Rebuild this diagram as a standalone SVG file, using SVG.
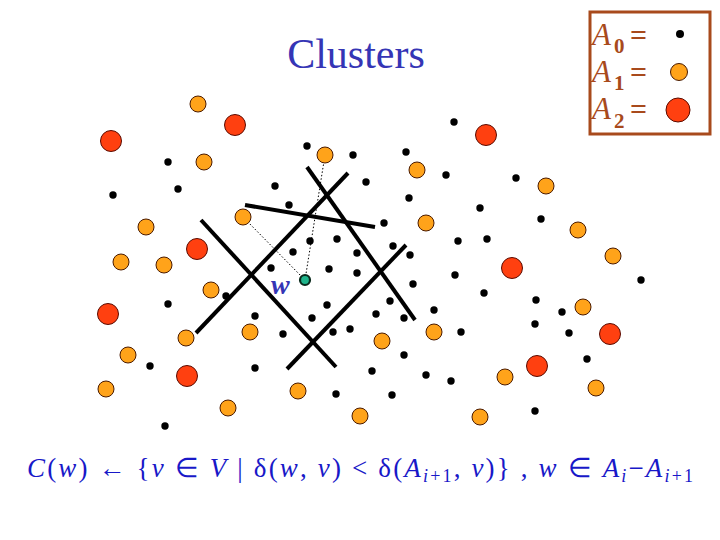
<svg xmlns="http://www.w3.org/2000/svg" width="720" height="540" viewBox="0 0 720 540">
<style>
.b{fill:#000}
.o{fill:#FFA31A;stroke:#4a1a00;stroke-width:1}
.r{fill:#FF4010;stroke:#5a0a00;stroke-width:1}
.cut{stroke:#000;stroke-width:4;stroke-linecap:butt;fill:none}
.dot{stroke:#000;stroke-width:1;stroke-dasharray:1.5 2;fill:none}
.leg{fill:#a84a1c;font-family:'Liberation Serif',serif}
.la{font-size:31px;font-style:italic}
.ls{font-size:21px;font-weight:bold}
.le{font-size:30px;font-weight:bold}
</style>
<rect width="720" height="540" fill="#fff"/>
<text x="356" y="68" font-family="'Liberation Serif',serif" font-size="42" fill="#3535b5" text-anchor="middle">Clusters</text>
<g id="legend">
<rect x="590" y="12" width="120" height="122" fill="none" stroke="#a84a1c" stroke-width="3"/>
<text class="leg la" x="592" y="45">A</text><text class="leg ls" x="614" y="53">0</text><text class="leg le" x="630" y="45">=</text>
<text class="leg la" x="592" y="82">A</text><text class="leg ls" x="614" y="90">1</text><text class="leg le" x="630" y="82">=</text>
<text class="leg la" x="592" y="119">A</text><text class="leg ls" x="614" y="128">2</text><text class="leg le" x="630" y="119">=</text>
<circle class="b" cx="680" cy="34" r="4"/>
<circle class="o" cx="679" cy="72" r="8.5"/>
<circle class="r" cx="678" cy="110" r="12"/>
</g>
<g id="connectors">
<line class="dot" x1="305" y1="280" x2="243" y2="217"/>
<line class="dot" x1="305" y1="280" x2="325" y2="155"/>
<line class="cut" x1="201" y1="220" x2="336" y2="367"/>
<line class="cut" x1="196" y1="333" x2="348" y2="173"/>
<line class="cut" x1="245" y1="205" x2="375" y2="227"/>
<line class="cut" x1="307" y1="167" x2="415" y2="320"/>
<line class="cut" x1="287" y1="369" x2="406" y2="245"/>
</g>
<g id="a0">
<g id="b1"><circle class="b" cx="168" cy="162" r="3.7"/></g>
<g id="b2"><circle class="b" cx="178" cy="189" r="3.7"/></g>
<g id="b3"><circle class="b" cx="113" cy="195" r="3.7"/></g>
<g id="b4"><circle class="b" cx="226" cy="296" r="3.7"/></g>
<g id="b5"><circle class="b" cx="168" cy="304" r="3.7"/></g>
<g id="b6"><circle class="b" cx="150" cy="366" r="3.7"/></g>
<g id="b7"><circle class="b" cx="165" cy="426" r="3.7"/></g>
<g id="b8"><circle class="b" cx="307" cy="146" r="3.7"/></g>
<g id="b9"><circle class="b" cx="353" cy="155" r="3.7"/></g>
<g id="b10"><circle class="b" cx="406" cy="152" r="3.7"/></g>
<g id="b11"><circle class="b" cx="454" cy="122" r="3.7"/></g>
<g id="b12"><circle class="b" cx="275" cy="186" r="3.7"/></g>
<g id="b13"><circle class="b" cx="366" cy="182" r="3.7"/></g>
<g id="b14"><circle class="b" cx="289" cy="205" r="3.7"/></g>
<g id="b15"><circle class="b" cx="409" cy="198" r="3.7"/></g>
<g id="b16"><circle class="b" cx="480" cy="208" r="3.7"/></g>
<g id="b17"><circle class="b" cx="384" cy="223" r="3.7"/></g>
<g id="b18"><circle class="b" cx="458" cy="241" r="3.7"/></g>
<g id="b19"><circle class="b" cx="487" cy="239" r="3.7"/></g>
<g id="b20"><circle class="b" cx="310" cy="241" r="3.7"/></g>
<g id="b21"><circle class="b" cx="337" cy="239" r="3.7"/></g>
<g id="b22"><circle class="b" cx="393" cy="246" r="3.7"/></g>
<g id="b23"><circle class="b" cx="357" cy="253" r="3.7"/></g>
<g id="b24"><circle class="b" cx="293" cy="252" r="3.7"/></g>
<g id="b25"><circle class="b" cx="410" cy="255" r="3.7"/></g>
<g id="b26"><circle class="b" cx="271" cy="268" r="3.7"/></g>
<g id="b27"><circle class="b" cx="329" cy="269" r="3.7"/></g>
<g id="b28"><circle class="b" cx="357" cy="273" r="3.7"/></g>
<g id="b29"><circle class="b" cx="413" cy="284" r="3.7"/></g>
<g id="b30"><circle class="b" cx="455" cy="275" r="3.7"/></g>
<g id="b31"><circle class="b" cx="327" cy="305" r="3.7"/></g>
<g id="b32"><circle class="b" cx="390" cy="301" r="3.7"/></g>
<g id="b33"><circle class="b" cx="434" cy="310" r="3.7"/></g>
<g id="b34"><circle class="b" cx="255" cy="316" r="3.7"/></g>
<g id="b35"><circle class="b" cx="312" cy="318" r="3.7"/></g>
<g id="b36"><circle class="b" cx="376" cy="314" r="3.7"/></g>
<g id="b37"><circle class="b" cx="404" cy="318" r="3.7"/></g>
<g id="b38"><circle class="b" cx="283" cy="334" r="3.7"/></g>
<g id="b39"><circle class="b" cx="333" cy="332" r="3.7"/></g>
<g id="b40"><circle class="b" cx="350" cy="329" r="3.7"/></g>
<g id="b41"><circle class="b" cx="461" cy="332" r="3.7"/></g>
<g id="b42"><circle class="b" cx="404" cy="355" r="3.7"/></g>
<g id="b43"><circle class="b" cx="255" cy="368" r="3.7"/></g>
<g id="b44"><circle class="b" cx="372" cy="371" r="3.7"/></g>
<g id="b45"><circle class="b" cx="426" cy="375" r="3.7"/></g>
<g id="b46"><circle class="b" cx="451" cy="381" r="3.7"/></g>
<g id="b47"><circle class="b" cx="336" cy="394" r="3.7"/></g>
<g id="b48"><circle class="b" cx="392" cy="395" r="3.7"/></g>
<g id="b49"><circle class="b" cx="516" cy="178" r="3.7"/></g>
<g id="b50"><circle class="b" cx="541" cy="219" r="3.7"/></g>
<g id="b51"><circle class="b" cx="484" cy="293" r="3.7"/></g>
<g id="b52"><circle class="b" cx="536" cy="300" r="3.7"/></g>
<g id="b53"><circle class="b" cx="562" cy="312" r="3.7"/></g>
<g id="b54"><circle class="b" cx="535" cy="324" r="3.7"/></g>
<g id="b55"><circle class="b" cx="569" cy="333" r="3.7"/></g>
<g id="b56"><circle class="b" cx="587" cy="359" r="3.7"/></g>
<g id="b57"><circle class="b" cx="641" cy="280" r="3.7"/></g>
<g id="b58"><circle class="b" cx="535" cy="411" r="3.7"/></g>
<g id="b59"><circle class="b" cx="446" cy="175" r="3.7"/></g>
</g>
<g id="a1">
<g id="o1"><circle class="o" cx="198" cy="104" r="8"/></g>
<g id="o2"><circle class="o" cx="204" cy="162" r="8"/></g>
<g id="o3"><circle class="o" cx="146" cy="227" r="8"/></g>
<g id="o4"><circle class="o" cx="121" cy="262" r="8"/></g>
<g id="o5"><circle class="o" cx="164" cy="265" r="8"/></g>
<g id="o6"><circle class="o" cx="211" cy="290" r="8"/></g>
<g id="o7"><circle class="o" cx="186" cy="338" r="8"/></g>
<g id="o8"><circle class="o" cx="128" cy="355" r="8"/></g>
<g id="o9"><circle class="o" cx="106" cy="389" r="8"/></g>
<g id="o10"><circle class="o" cx="228" cy="408" r="8"/></g>
<g id="o11"><circle class="o" cx="243" cy="217" r="8"/></g>
<g id="o12"><circle class="o" cx="325" cy="155" r="8"/></g>
<g id="o13"><circle class="o" cx="417" cy="170" r="8"/></g>
<g id="o14"><circle class="o" cx="426" cy="223" r="8"/></g>
<g id="o15"><circle class="o" cx="250" cy="332" r="8"/></g>
<g id="o16"><circle class="o" cx="382" cy="341" r="8"/></g>
<g id="o17"><circle class="o" cx="434" cy="332" r="8"/></g>
<g id="o18"><circle class="o" cx="298" cy="391" r="8"/></g>
<g id="o19"><circle class="o" cx="360" cy="416" r="8"/></g>
<g id="o20"><circle class="o" cx="480" cy="417" r="8"/></g>
<g id="o21"><circle class="o" cx="505" cy="377" r="8"/></g>
<g id="o22"><circle class="o" cx="546" cy="186" r="8"/></g>
<g id="o23"><circle class="o" cx="578" cy="230" r="8"/></g>
<g id="o24"><circle class="o" cx="613" cy="256" r="8"/></g>
<g id="o25"><circle class="o" cx="583" cy="307" r="8"/></g>
<g id="o26"><circle class="o" cx="596" cy="388" r="8"/></g>
</g>
<g id="a2">
<g id="r1"><circle class="r" cx="111" cy="141" r="10.5"/></g>
<g id="r2"><circle class="r" cx="235" cy="125" r="10.5"/></g>
<g id="r3"><circle class="r" cx="486" cy="135" r="10.5"/></g>
<g id="r4"><circle class="r" cx="197" cy="249" r="10.5"/></g>
<g id="r5"><circle class="r" cx="108" cy="314" r="10.5"/></g>
<g id="r6"><circle class="r" cx="187" cy="376" r="10.5"/></g>
<g id="r7"><circle class="r" cx="512" cy="268" r="10.5"/></g>
<g id="r8"><circle class="r" cx="610" cy="334" r="10.5"/></g>
<g id="r9"><circle class="r" cx="537" cy="366" r="10.5"/></g>
</g>
<g id="w">
<circle cx="305" cy="280" r="5" fill="#1fb48b" stroke="#0a2a1c" stroke-width="2.2"/>
<text x="271" y="294" font-family="'Liberation Serif',serif" font-size="28" font-style="italic" font-weight="bold" fill="#3535b5">w</text>
</g>
<text x="27" y="477" font-family="'Liberation Serif',serif" font-size="27" fill="#1818c8" textLength="666" lengthAdjust="spacing"><tspan font-style="italic">C</tspan>(<tspan font-style="italic">w</tspan>) ← {<tspan font-style="italic">v</tspan> ∈ <tspan font-style="italic">V</tspan> | δ(<tspan font-style="italic">w</tspan>, <tspan font-style="italic">v</tspan>) &lt; δ(<tspan font-style="italic">A</tspan><tspan font-size="18" dy="5" font-style="italic">i</tspan><tspan font-size="18">+1</tspan><tspan dy="-5">, </tspan><tspan font-style="italic">v</tspan>)} , <tspan font-style="italic">w</tspan> ∈ <tspan font-style="italic">A</tspan><tspan font-size="18" dy="5" font-style="italic">i</tspan><tspan dy="-5">−</tspan><tspan font-style="italic">A</tspan><tspan font-size="18" dy="5" font-style="italic">i</tspan><tspan font-size="18">+1</tspan></text>
</svg>
